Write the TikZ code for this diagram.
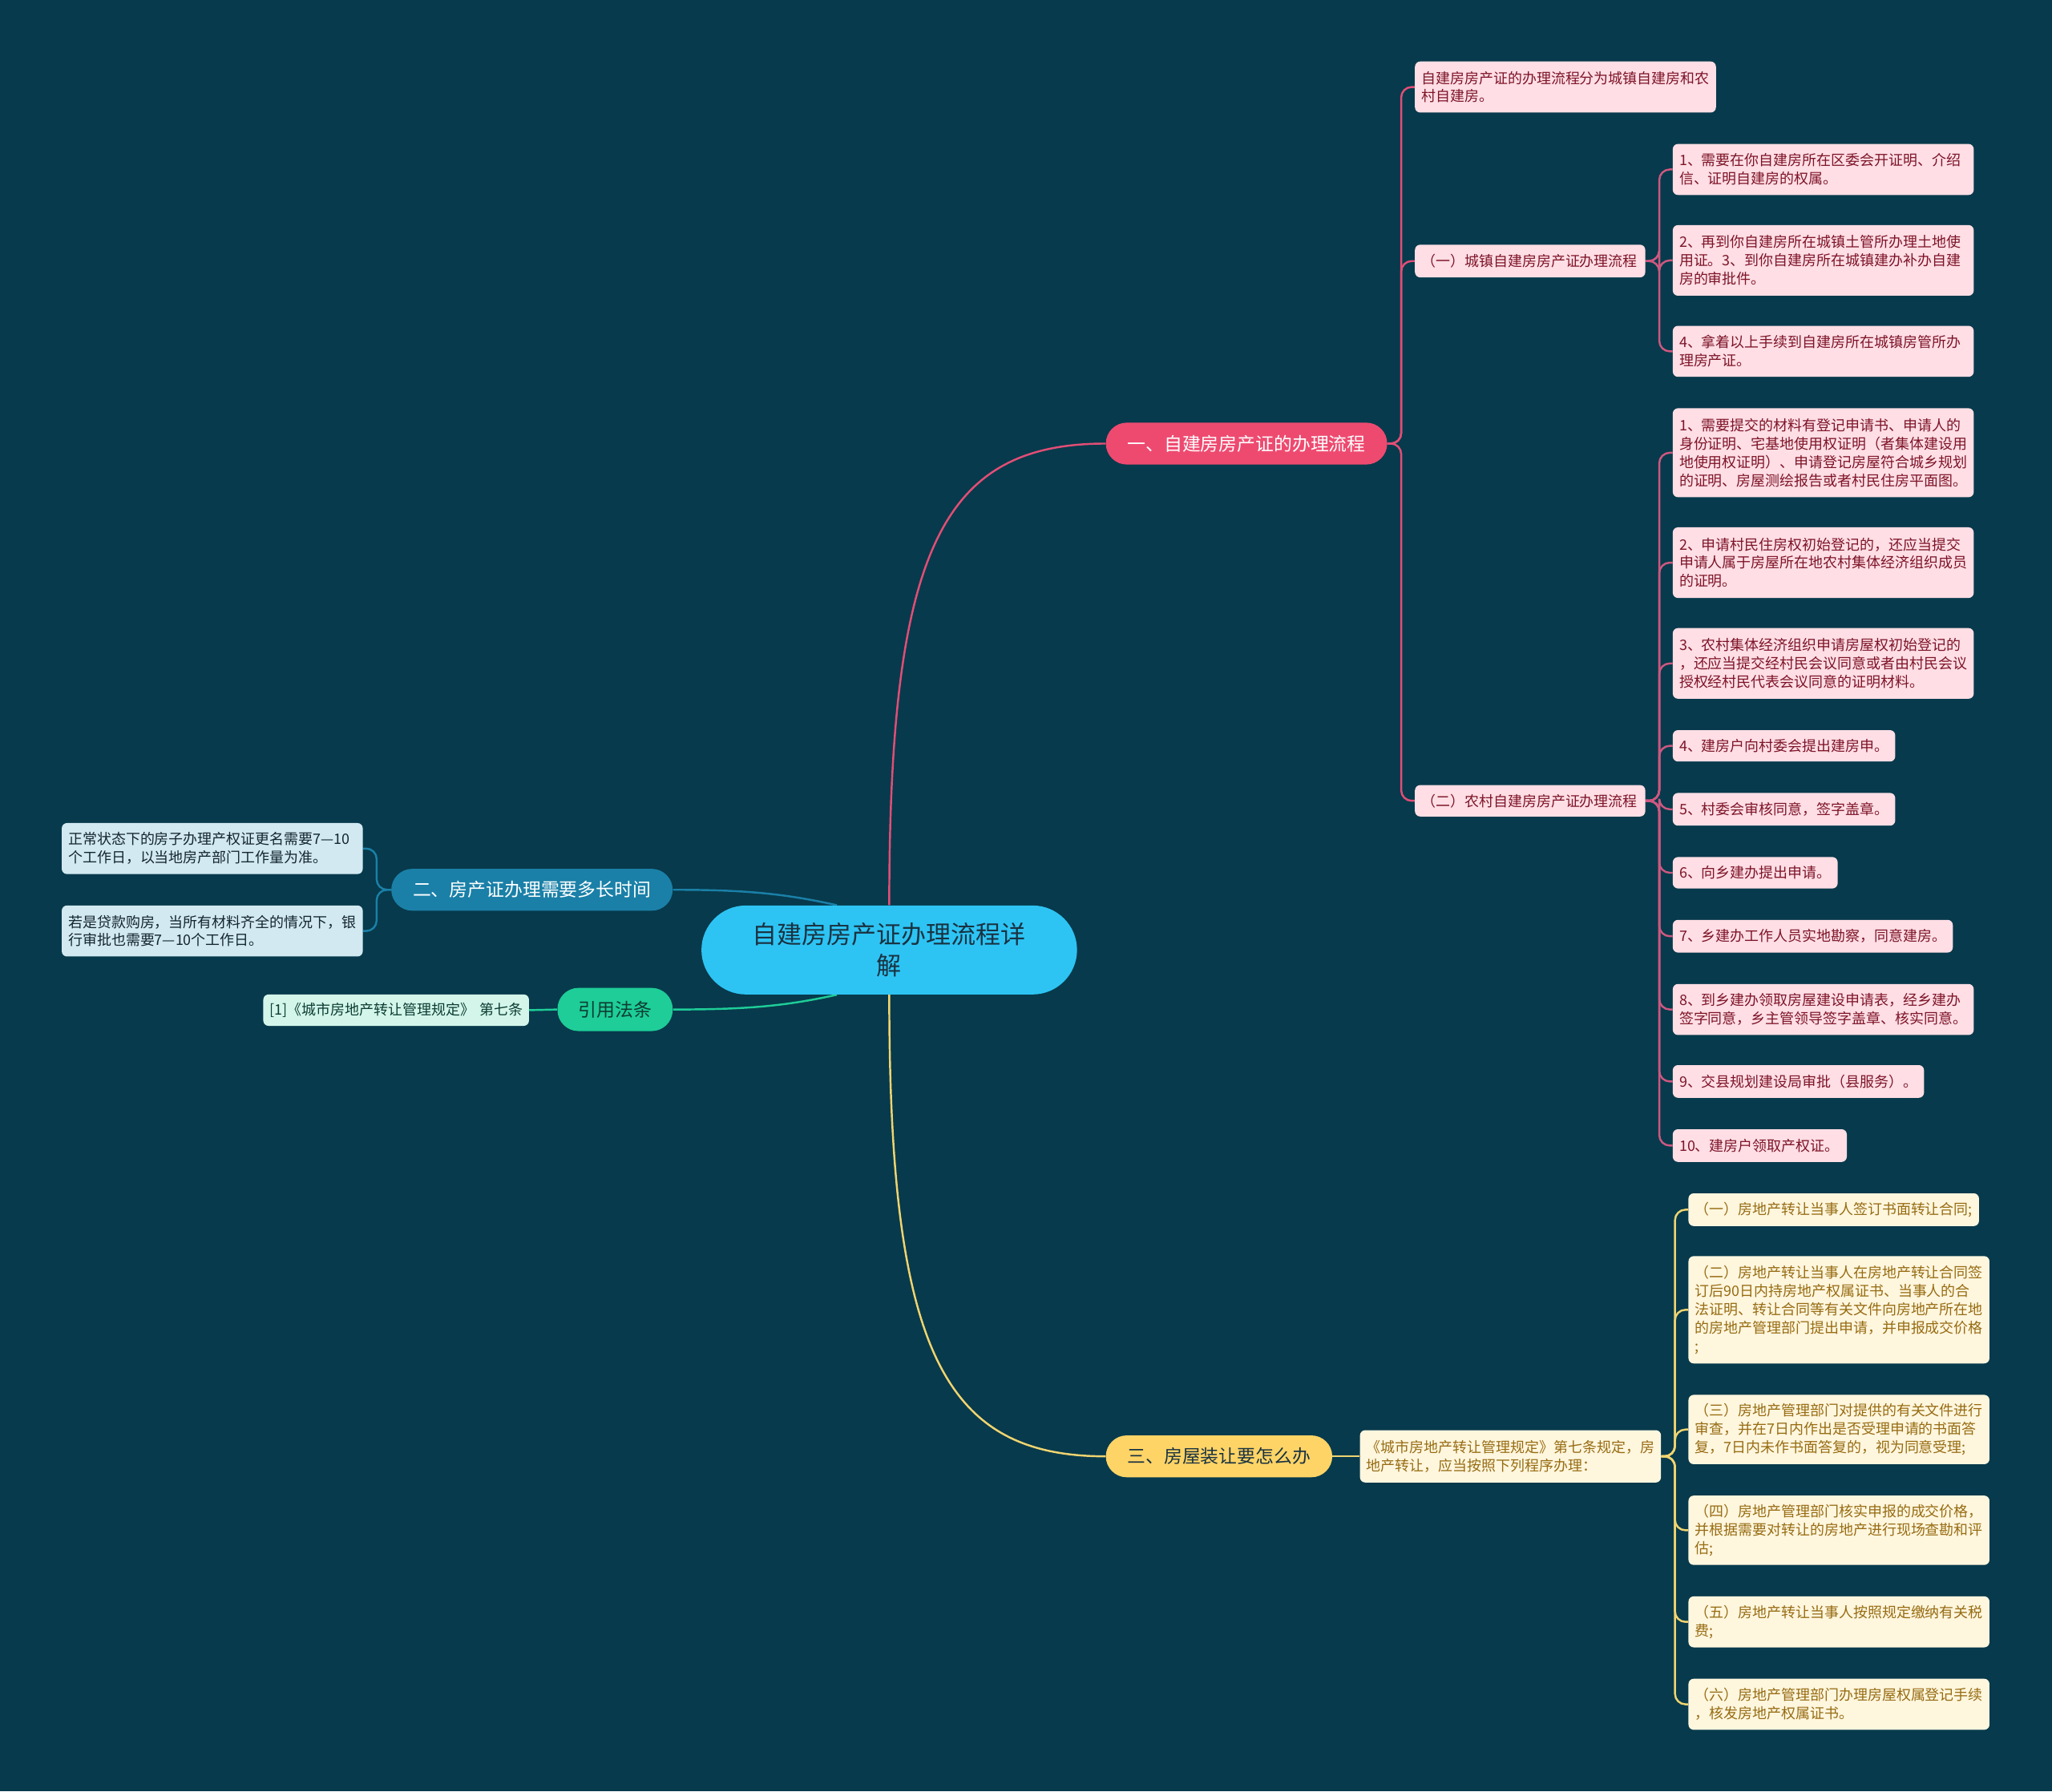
\documentclass[tikz,border=0pt]{standalone}
\usepackage{fontspec}
\setmainfont{Noto Sans CJK SC}
\usetikzlibrary{calc}
\pgfdeclarelayer{bglayer}
\pgfdeclarelayer{edgelayer}
\pgfsetlayers{bglayer,edgelayer,main}
\definecolor{bgc}{RGB}{7,58,76}
\definecolor{rootc}{RGB}{45,196,244}
\definecolor{rootT}{RGB}{25,50,65}
\definecolor{pinkB}{RGB}{238,74,112}
\definecolor{pinkL}{RGB}{255,222,229}
\definecolor{pinkT}{RGB}{125,20,40}
\definecolor{pinkE}{RGB}{226,78,118}
\definecolor{pinkE2}{RGB}{205,88,128}
\definecolor{blueB}{RGB}{26,128,168}
\definecolor{blueL}{RGB}{210,233,241}
\definecolor{blueT}{RGB}{20,38,48}
\definecolor{greenB}{RGB}{30,205,152}
\definecolor{greenL}{RGB}{212,246,234}
\definecolor{greenT}{RGB}{12,60,50}
\definecolor{yellowB}{RGB}{255,212,102}
\definecolor{yellowL}{RGB}{255,246,222}
\definecolor{yellowT}{RGB}{150,108,18}
\definecolor{yellowE}{RGB}{240,212,112}
\begin{document}
\begin{tikzpicture}[x=1pt,y=-1pt,
  leaf/.style={anchor=west, rounded corners=4pt, inner xsep=5pt, inner ysep=0pt, align=left, font=\fontsize{11}{14}\selectfont},
  pleaf/.style={leaf, fill=pinkL, text=pinkT},
  yleaf/.style={leaf, fill=yellowL, text=yellowT},
  bleaf/.style={leaf, fill=blueL, text=blueT},
  gleaf/.style={leaf, fill=greenL, text=greenT},
  br/.style={rounded corners=16pt, minimum height=32pt, inner sep=0pt, font=\fontsize{14}{17}\selectfont},
  rootbox/.style={fill=rootc, text=rootT, rounded corners=34pt, minimum width=287pt, minimum height=68pt, inner sep=0pt, align=center, font=\fontsize{19}{24}\selectfont},
  edge/.style={line width=1.5pt},
  tree/.style={line width=1.5pt, rounded corners=8pt}
]
\begin{pgfonlayer}{bglayer}
\fill[bgc] (0,0) rectangle (1568,1369);
\end{pgfonlayer}
\useasboundingbox (0,0) rectangle (1568,1369);

% root and branches
\node[rootbox] (root) at (679.5,726) {自建房房产证办理流程详\\解};
\node[br, fill=pinkB, text=white, minimum width=215pt] (p) at (952.5,339) {一、自建房房产证的办理流程};
\node[br, fill=blueB, text=white, minimum width=215pt] (bl) at (406.5,680) {二、房产证办理需要多长时间};
\node[br, fill=greenB, text=greenT, minimum width=88pt, minimum height=33pt] (g) at (470,771.5) {引用法条};
\node[br, fill=yellowB, text=rootT, minimum width=173pt] (y) at (931.5,1113) {三、房屋装让要怎么办};

% pink level 2
\node[pleaf, text width=220pt, minimum height=39pt] (a) at (1081,66.5) {自建房房产证的办理流程分为城镇自建房和农\\村自建房。};
\node[pleaf, text width=166pt, minimum height=25pt] (b) at (1081,199.5) {（一）城镇自建房房产证办理流程};
\node[pleaf, text width=166pt, minimum height=24pt] (c) at (1081,612) {（二）农村自建房房产证办理流程};

% B children
\node[pleaf, text width=220pt, minimum height=39pt] (b1) at (1278,129.5) {1、需要在你自建房所在区委会开证明、介绍\\信、证明自建房的权属。};
\node[pleaf, text width=220pt, minimum height=54pt] (b2) at (1278,199) {2、再到你自建房所在城镇土管所办理土地使\\用证。3、到你自建房所在城镇建办补办自建\\房的审批件。};
\node[pleaf, text width=220pt, minimum height=39pt] (b3) at (1278,268.5) {4、拿着以上手续到自建房所在城镇房管所办\\理房产证。};

% C children
\node[pleaf, text width=220pt, minimum height=68pt] (c1) at (1278,346) {1、需要提交的材料有登记申请书、申请人的\\身份证明、宅基地使用权证明（者集体建设用\\地使用权证明）、申请登记房屋符合城乡规划\\的证明、房屋测绘报告或者村民住房平面图。};
\node[pleaf, text width=220pt, minimum height=54pt] (c2) at (1278,430) {2、申请村民住房权初始登记的，还应当提交\\申请人属于房屋所在地农村集体经济组织成员\\的证明。};
\node[pleaf, text width=220pt, minimum height=54pt] (c3) at (1278,507) {3、农村集体经济组织申请房屋权初始登记的\\，还应当提交经村民会议同意或者由村民会议\\授权经村民代表会议同意的证明材料。};
\node[pleaf, text width=160pt, minimum height=24pt] (c4) at (1278,570) {4、建房户向村委会提出建房申。};
\node[pleaf, text width=160pt, minimum height=25pt] (c5) at (1278,618.5) {5、村委会审核同意，签字盖章。};
\node[pleaf, text width=116pt, minimum height=24pt] (c6) at (1278,667) {6、向乡建办提出申请。};
\node[pleaf, text width=204pt, minimum height=25pt] (c7) at (1278,715.5) {7、乡建办工作人员实地勘察，同意建房。};
\node[pleaf, text width=220pt, minimum height=39pt] (c8) at (1278,771.5) {8、到乡建办领取房屋建设申请表，经乡建办\\签字同意，乡主管领导签字盖章、核实同意。};
\node[pleaf, text width=182pt, minimum height=25pt] (c9) at (1278,826.5) {9、交县规划建设局审批（县服务）。};
\node[pleaf, text width=123pt, minimum height=25pt] (c10) at (1278,875.5) {10、建房户领取产权证。};

% yellow
\node[yleaf, text width=220pt, minimum height=40pt] (y0) at (1039,1113) {《城市房地产转让管理规定》第七条规定，房\\地产转让，应当按照下列程序办理：};
\node[yleaf, text width=212pt, minimum height=25pt] (y1) at (1290,924.5) {（一）房地产转让当事人签订书面转让合同;};
\node[yleaf, text width=220pt, minimum height=82pt] (y2) at (1290,1001) {（二）房地产转让当事人在房地产转让合同签\\订后90日内持房地产权属证书、当事人的合\\法证明、转让合同等有关文件向房地产所在地\\的房地产管理部门提出申请，并申报成交价格\\;};
\node[yleaf, text width=220pt, minimum height=53pt] (y3) at (1290,1092.5) {（三）房地产管理部门对提供的有关文件进行\\审查，并在7日内作出是否受理申请的书面答\\复，7日内未作书面答复的，视为同意受理;};
\node[yleaf, text width=220pt, minimum height=53pt] (y4) at (1290,1169.5) {（四）房地产管理部门核实申报的成交价格，\\并根据需要对转让的房地产进行现场查勘和评\\估;};
\node[yleaf, text width=220pt, minimum height=39pt] (y5) at (1290,1239.5) {（五）房地产转让当事人按照规定缴纳有关税\\费;};
\node[yleaf, text width=220pt, minimum height=39pt] (y6) at (1290,1302.5) {（六）房地产管理部门办理房屋权属登记手续\\，核发房地产权属证书。};

% blue and green leaves
\node[bleaf, text width=220pt, minimum height=39pt] (l1) at (47,648.5) {正常状态下的房子办理产权证更名需要7—10\\个工作日，以当地房产部门工作量为准。};
\node[bleaf, text width=220pt, minimum height=39pt] (l2) at (47,711.5) {若是贷款购房，当所有材料齐全的情况下，银\\行审批也需要7—10个工作日。};
\node[gleaf, text width=193pt, minimum height=24pt] (g1) at (201,772) {\mbox{[1]《城市房地产转让管理规定》 第七条}};

\begin{pgfonlayer}{edgelayer}
\draw[edge, pinkE] (root.north) .. controls (679.5,420) and (720,339) .. (p.west);
\draw[edge, yellowE] (root.south) .. controls (679.5,1030) and (720,1113) .. (y.west);
\draw[edge, blueB] ([xshift=-40pt]root.north) .. controls (600,683) and (570,680) .. (bl.east);
\draw[edge, greenB] ([xshift=-40pt]root.south) .. controls (600,769) and (570,771.5) .. (g.east);
\foreach \n in {a,b,c} \draw[tree, pinkE] (p.east) -- ++(10.5,0) |- (\n.west);
\foreach \n in {b1,b2,b3} \draw[tree, pinkE2] (b.east) -- ++(10.5,0) |- (\n.west);
\foreach \n in {c1,c2,c3,c4,c5,c6,c7,c8,c9,c10} \draw[tree, pinkE2] (c.east) -- ++(10.5,0) |- (\n.west);
\draw[edge, yellowE] (y.east) -- (y0.west);
\foreach \n in {y1,y2,y3,y4,y5,y6} \draw[tree, yellowE] (y0.east) -- ++(10.5,0) |- (\n.west);
\foreach \n in {l1,l2} \draw[tree, blueB] (bl.west) -- ++(-11,0) |- (\n.east);
\draw[edge, greenB] (g.west) -- (g1.east);
\end{pgfonlayer}
\end{tikzpicture}
\end{document}
